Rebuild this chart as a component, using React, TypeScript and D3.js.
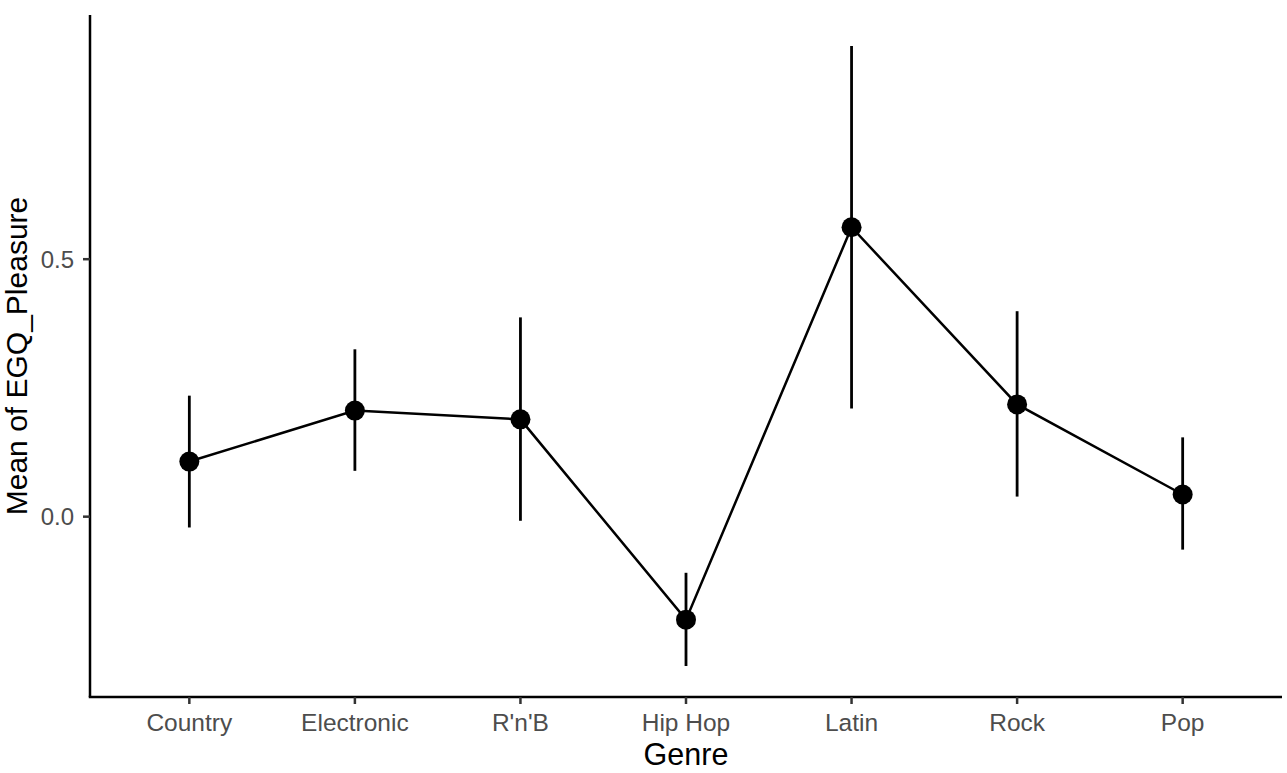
import React from 'react';
import * as d3 from 'd3';

const genres = ['Country', 'Electronic', "R'n'B", 'Hip Hop', 'Latin', 'Rock', 'Pop'];
const means = [0.107, 0.206, 0.189, -0.2, 0.562, 0.218, 0.043];
const lowers = [-0.021, 0.089, -0.008, -0.29, 0.21, 0.039, -0.064];
const uppers = [0.235, 0.325, 0.387, -0.109, 0.914, 0.399, 0.154];
const yTicks = [0.0, 0.5];

const W = 1287;
const H = 773;
const left = 90;
const right = 1282;
const top = 15;
const bottom = 697;

const App: React.FC = () => {
  const lo = d3.min(lowers)!;
  const hi = d3.max(uppers)!;
  const pad = (hi - lo) * 0.05;
  const y = d3.scaleLinear().domain([lo - pad, hi + pad]).range([bottom, top]);
  const step = (right - left) / (genres.length - 1 + 1.2);
  const x = d3.scalePoint<string>().domain(genres).range([left + 0.6 * step, right - 0.6 * step]);

  const line = d3.line<number>()
    .x((_, i) => x(genres[i])!)
    .y(d => y(d));

  const font = 'Arial, "Liberation Sans", sans-serif';

  return (
    <svg width={W} height={H} style={{ position: 'absolute', left: 0, top: 0, background: '#fff' }}>
      <path d={line(means) || ''} fill="none" stroke="#000" strokeWidth={2.5} />
      {genres.map((g, i) => (
        <line key={'e' + g} x1={x(g)} x2={x(g)} y1={y(lowers[i])} y2={y(uppers[i])} stroke="#000" strokeWidth={2.8} />
      ))}
      {genres.map((g, i) => (
        <circle key={'p' + g} cx={x(g)} cy={y(means[i])} r={10} fill="#000" />
      ))}
      <line x1={left} x2={left} y1={top} y2={bottom} stroke="#000" strokeWidth={2.5} />
      <line x1={left - 1.25} x2={right} y1={bottom} y2={bottom} stroke="#000" strokeWidth={2.5} />
      {yTicks.map(t => (
        <g key={'y' + t}>
          <line x1={left - 7} x2={left} y1={y(t)} y2={y(t)} stroke="#333" strokeWidth={2.5} />
          <text x={left - 16} y={y(t)} dy="0.36em" textAnchor="end" fontSize={24} fill="#4d4d4d" fontFamily={font}>
            {d3.format('.1f')(t)}
          </text>
        </g>
      ))}
      {genres.map(g => (
        <g key={'x' + g}>
          <line x1={x(g)} x2={x(g)} y1={bottom} y2={bottom + 7} stroke="#333" strokeWidth={2.5} />
          <text x={x(g)} y={731} textAnchor="middle" fontSize={24.5} fill="#4d4d4d" fontFamily={font}>
            {g}
          </text>
        </g>
      ))}
      <text x={(left + right) / 2} y={765} textAnchor="middle" fontSize={30.5} fill="#000" fontFamily={font}>
        Genre
      </text>
      <text transform={`translate(27,${(top + bottom) / 2}) rotate(-90)`} textAnchor="middle" fontSize={30} fill="#000" fontFamily={font}>
        Mean of EGQ_Pleasure
      </text>
    </svg>
  );
};

export default App;
